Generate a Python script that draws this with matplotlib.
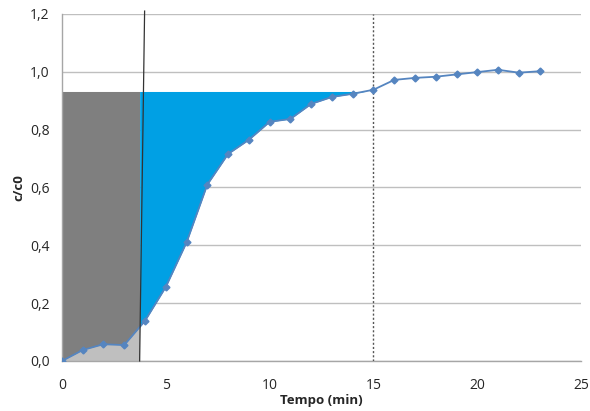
import numpy as np
import matplotlib
matplotlib.use('Agg')
import matplotlib.pyplot as plt

plt.rcParams['font.family'] = ['Open Sans', 'DejaVu Sans']

# dados
tempo = [0, 1, 2, 3, 4, 5, 6, 7, 8, 9, 10, 11, 12, 13, 14, 15, 16, 17, 18, 19, 20, 21, 22, 23]
c_c0 = [0.0, 0.038, 0.058, 0.055, 0.139, 0.256, 0.41, 0.61, 0.716, 0.765, 0.827, 0.837,
        0.889, 0.913, 0.924, 0.938, 0.972, 0.979, 0.983, 0.991, 0.999, 1.007, 0.997, 1.002]
nivel = 0.932        # altura das areas preenchidas
t_corte = 3.74       # linha vertical (tempo de ruptura)
t_final = 15         # linha tracejada
y_ticks = [0.0, 0.2, 0.4, 0.6, 0.8, 1.0, 1.2]
x_ticks = [0, 5, 10, 15, 20, 25]

t = np.array(tempo, dtype=float)
c = np.array(c_c0)

# insere o ponto de corte na curva
c_corte = np.interp(t_corte, t, c)
idx = np.searchsorted(t, t_corte)
t2 = np.insert(t, idx, t_corte)
c2 = np.insert(c, idx, c_corte)

fig = plt.figure(figsize=(5.9, 4.11), dpi=100)
ax = fig.add_axes([0.105, 0.1217, 0.88, 0.8443])

antes = t2 <= t_corte
depois = t2 >= t_corte
ax.fill_between(t2[antes], 0, c2[antes], color='#bfbfbf', lw=0, zorder=1)
ax.fill_between(t2[antes], c2[antes], nivel, color='#7f7f7f', lw=0, zorder=1)
ax.fill_between(t2[depois], c2[depois], nivel, where=c2[depois] <= nivel,
                interpolate=True, color='#00a0e4', lw=0, zorder=1)

ax.plot(t, c, color='#5585c0', lw=1.3, marker='D', ms=3.5, zorder=4)

ax.plot([t_corte, 3.98], [0, 1.21], color='#333333', lw=0.9, zorder=5, clip_on=False)
ax.axvline(t_final, color='#555555', lw=1, ls=(0, (1.5, 1.5)), zorder=3)

ax.set_xlim(0, 25)
ax.set_ylim(0, 1.2)
ax.set_xticks(x_ticks)
ax.set_yticks(y_ticks)
ax.set_yticklabels([f'{v:.1f}'.replace('.', ',') for v in y_ticks])
ax.tick_params(length=0, labelsize=10, colors='#262626')
ax.tick_params(axis='x', pad=12)
ax.tick_params(axis='y', pad=9)
ax.grid(axis='y', color='#bfbfbf', lw=1, zorder=0)
ax.set_axisbelow(True)
for s in ['top', 'right']:
    ax.spines[s].set_visible(False)
for s in ['left', 'bottom']:
    ax.spines[s].set_color('#a6a6a6')
    ax.spines[s].set_linewidth(1)

ax.set_xlabel('Tempo (min)', fontsize=9.5, fontweight='bold', color='#262626', labelpad=1)
ax.set_ylabel('c/c0', fontsize=9.5, fontweight='bold', color='#262626', labelpad=3)

plt.savefig('out.png', dpi=100)
